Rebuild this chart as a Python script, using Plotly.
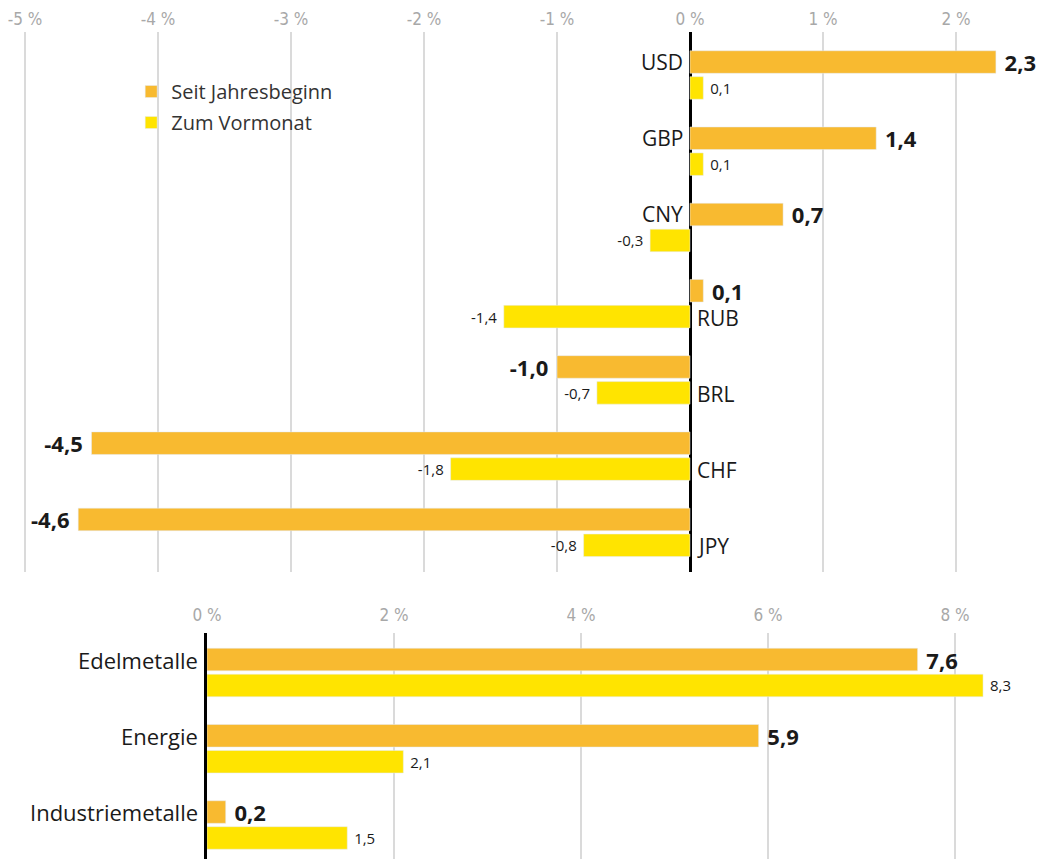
import plotly.graph_objects as go

# ---- data ----
currencies = ["USD", "GBP", "CNY", "RUB", "BRL", "CHF", "JPY"]
cur_ytd = [2.3, 1.4, 0.7, 0.1, -1.0, -4.5, -4.6]
cur_mom = [0.1, 0.1, -0.3, -1.4, -0.7, -1.8, -0.8]

commodities = ["Edelmetalle", "Energie", "Industriemetalle"]
com_ytd = [7.6, 5.9, 0.2]
com_mom = [8.3, 2.1, 1.5]

series_names = ["Seit Jahresbeginn", "Zum Vormonat"]
top_ticks = [-5, -4, -3, -2, -1, 0, 1, 2]
bottom_ticks = [0, 2, 4, 6, 8]

# ---- style ----
ORANGE = "#F8BA30"
YELLOW = "#FFE400"
GRID = "#DADADA"
TICKC = "#A8A8A8"
TXT = "#1A1A1A"
FONT = "Open Sans, Noto Sans, sans-serif"
TICKFONT = "Liberation Sans Narrow, DejaVu Sans Condensed, Roboto, sans-serif"
NB = "\u00a0"


def fmt(v):
    s = f"{v:.1f}".replace(".", ",")
    return (NB + s) if v >= 0 else (s + NB)


fig = go.Figure()

# top panel
fig.add_trace(go.Bar(
    y=currencies, x=cur_ytd, orientation="h", name=series_names[0],
    marker=dict(color=ORANGE), legendgroup="a",
    text=[fmt(v) for v in cur_ytd], textposition="outside",
    textfont=dict(size=22, color=TXT, family=FONT, weight=700),
    cliponaxis=False, constraintext="none", xaxis="x", yaxis="y"))
fig.add_trace(go.Bar(
    y=currencies, x=cur_mom, orientation="h", name=series_names[1],
    marker=dict(color=YELLOW), legendgroup="b",
    text=[fmt(v) for v in cur_mom], textposition="outside",
    textfont=dict(size=15, color=TXT, family=FONT),
    cliponaxis=False, constraintext="none", xaxis="x", yaxis="y"))

# bottom panel
fig.add_trace(go.Bar(
    y=commodities, x=com_ytd, orientation="h", name=series_names[0],
    marker=dict(color=ORANGE), legendgroup="a", showlegend=False,
    text=[fmt(v) for v in com_ytd], textposition="outside",
    textfont=dict(size=22, color=TXT, family=FONT, weight=700),
    cliponaxis=False, constraintext="none", xaxis="x2", yaxis="y2"))
fig.add_trace(go.Bar(
    y=commodities, x=com_mom, orientation="h", name=series_names[1],
    marker=dict(color=YELLOW), legendgroup="b", showlegend=False,
    text=[fmt(v) for v in com_mom], textposition="outside",
    textfont=dict(size=15, color=TXT, family=FONT),
    cliponaxis=False, constraintext="none", xaxis="x2", yaxis="y2"))

H = 859
annotations = []
for c, a, b in zip(currencies, cur_ytd, cur_mom):
    left = a >= abs(b)
    annotations.append(dict(
        x=0, y=c, xref="x", yref="y", text=c, showarrow=False,
        xanchor="right" if left else "left", xshift=-5 if left else 5,
        yshift=13 if left else -14,
        font=dict(size=21, color=TXT, family=FONT)))
for c in commodities:
    annotations.append(dict(
        x=0, y=c, xref="x2", yref="y2", text=c, showarrow=False,
        xanchor="right", xshift=-7, yshift=13,
        font=dict(size=22, color=TXT, family=FONT)))

fig.update_layout(
    width=1058, height=H,
    margin=dict(l=0, r=0, t=0, b=0, autoexpand=False),
    paper_bgcolor="white", plot_bgcolor="white",
    barmode="group", bargap=0.32, bargroupgap=0.13,
    font=dict(family=FONT, color=TXT),
    showlegend=True,
    legend=dict(x=0.124, y=1 - 72 / H, xanchor="left", yanchor="top",
                font=dict(size=20, color="#333333", family=FONT),
                bgcolor="rgba(0,0,0,0)", traceorder="grouped",
                tracegroupgap=2),
    xaxis=dict(domain=[0, 1], range=[-690 / 133, 368 / 133], side="top",
               anchor="y", tickvals=top_ticks, automargin=False,
               ticktext=[f"{t} %" for t in top_ticks],
               tickfont=dict(size=17, color=TICKC, family=TICKFONT),
               showgrid=True, gridcolor=GRID, gridwidth=1.5,
               zeroline=True, zerolinecolor="#000000", zerolinewidth=2.5,
               ticks="", ticklabelstandoff=3, showline=False, fixedrange=True),
    yaxis=dict(domain=[(H - 572) / H, (H - 32) / H], anchor="x",
               type="category", range=[6.52, -0.564], automargin=False,
               showticklabels=False, showgrid=False, zeroline=False,
               ticks="", fixedrange=True),
    xaxis2=dict(domain=[207 / 1058, 1], range=[0, 851 / 93.5], side="top",
                anchor="y2", tickvals=bottom_ticks, automargin=False,
                ticktext=[f"{t} %" for t in bottom_ticks],
                tickfont=dict(size=17, color=TICKC, family=TICKFONT),
                showgrid=True, gridcolor=GRID, gridwidth=1.5,
                zeroline=False, ticks="", ticklabelstandoff=8,
                showline=False, fixedrange=True),
    yaxis2=dict(domain=[0, (H - 633) / H], anchor="x2", type="category",
                range=[2.446, -0.518], showticklabels=False, showgrid=False,
                zeroline=False, ticks="", showline=True, automargin=False,
                linecolor="#000000", linewidth=2.5, fixedrange=True),
    annotations=annotations,
)

fig.write_html(
    "out.html",
    config={"displayModeBar": False},
    post_script="document.body.style.margin='0';document.body.style.overflow='hidden';",
)
